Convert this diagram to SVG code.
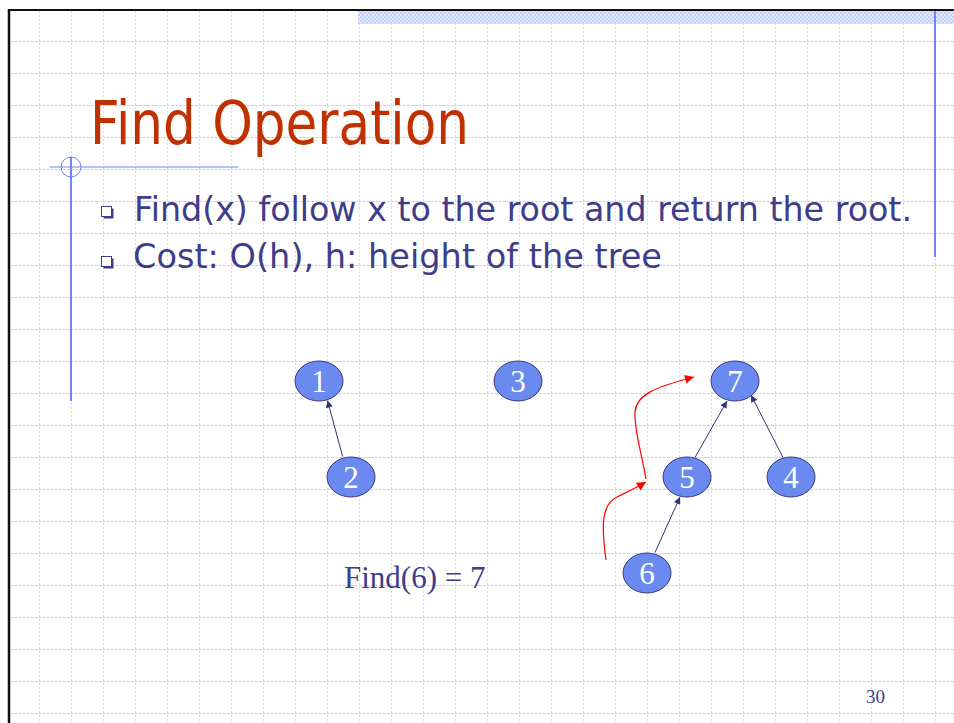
<svg xmlns="http://www.w3.org/2000/svg" width="954" height="723" viewBox="0 0 954 723">
<style>
.node ellipse{fill:#6b8af0;stroke:#3a3a80;stroke-width:1}
.node text{font-family:"Liberation Serif","Times New Roman",serif;font-size:31px;fill:#ffffff;text-anchor:middle}
.edge{stroke:#33337a;stroke-width:1;fill:none}
.red{stroke:#ff0000;stroke-width:1.2;fill:none}
.body{font-family:"DejaVu Sans",Tahoma,Verdana,sans-serif;font-size:33px;fill:#3d3d8a}
.deco{stroke:#6f86f0;fill:none}
.gh{stroke:#c4d0fa;stroke-width:1;stroke-dasharray:3 1;fill:none}
.gv{stroke:#d2dbfb;stroke-width:1;stroke-dasharray:2 2;fill:none}
</style>
<defs>
<pattern id="check" patternUnits="userSpaceOnUse" x="0" y="0" width="4" height="4">
<rect width="4" height="4" fill="#e2e8fc"/>
<rect width="2" height="2" fill="#c4d0f8"/>
<rect x="2" y="2" width="2" height="2" fill="#c4d0f8"/>
</pattern>
<marker id="ah" viewBox="0 0 10 10" refX="10" refY="5" markerWidth="9" markerHeight="7" markerUnits="userSpaceOnUse" orient="auto">
<path d="M0,0 L10,5 L0,10 z" fill="#33337a"/>
</marker>
<marker id="rah" viewBox="0 0 10 10" refX="10" refY="5" markerWidth="12" markerHeight="9" markerUnits="userSpaceOnUse" orient="auto">
<path d="M0,0 L10,5 L0,10 z" fill="#ff0000"/>
</marker>
</defs>
<rect width="954" height="723" fill="#ffffff"/>
<g id="grid">
<path class="gv" d="M39.5 11V723M71.5 11V723M103.5 11V723M135.5 11V723M167.5 11V723M199.5 11V723M231.5 11V723M263.5 11V723M295.5 11V723M327.5 11V723M359.5 11V723M391.5 11V723M423.5 11V723M455.5 11V723M487.5 11V723M519.5 11V723M551.5 11V723M583.5 11V723M615.5 11V723M647.5 11V723M679.5 11V723M711.5 11V723M743.5 11V723M775.5 11V723M807.5 11V723M839.5 11V723M871.5 11V723M903.5 11V723M935.5 11V723"/>
<path class="gh" d="M11 41.5H954M11 73.5H954M11 105.5H954M11 137.5H954M11 169.5H954M11 201.5H954M11 233.5H954M11 265.5H954M11 297.5H954M11 329.5H954M11 361.5H954M11 393.5H954M11 425.5H954M11 457.5H954M11 489.5H954M11 521.5H954M11 553.5H954M11 585.5H954M11 617.5H954M11 649.5H954M11 681.5H954M11 713.5H954"/>
</g>
<rect x="358" y="11" width="596" height="13" fill="url(#check)"/>
<line x1="8" y1="10" x2="954" y2="10" stroke="#111111" stroke-width="2"/>
<line x1="9" y1="9" x2="9" y2="723" stroke="#111111" stroke-width="2.5"/>
<line class="deco" x1="935" y1="11" x2="935" y2="257" stroke-width="2"/>
<line class="deco" x1="71" y1="157" x2="71" y2="401" stroke-width="2"/>
<line class="deco" x1="50" y1="167" x2="238" y2="167" stroke-width="1"/>
<circle class="deco" cx="71" cy="167" r="10" stroke-width="1"/>
<text x="90" y="144" font-family="DejaVu Sans,Tahoma,Verdana,sans-serif" font-size="60" fill="#c03000" textLength="379" lengthAdjust="spacingAndGlyphs">Find Operation</text>
<g id="bullets">
<rect x="103.5" y="208.5" width="10" height="10" fill="#3d3d8a"/>
<rect x="101.5" y="206.5" width="10" height="10" fill="#ffffff" stroke="#3d3d8a" stroke-width="1"/>
<rect x="103.5" y="258.5" width="10" height="10" fill="#3d3d8a"/>
<rect x="101.5" y="256.5" width="10" height="10" fill="#ffffff" stroke="#3d3d8a" stroke-width="1"/>
</g>
<text class="body" x="134" y="221" textLength="778" lengthAdjust="spacingAndGlyphs">Find(x) follow x to the root and return the root.</text>
<text class="body" x="133" y="268" textLength="529" lengthAdjust="spacingAndGlyphs">Cost: O(h), h: height of the tree</text>
<g id="connectors">
<line class="edge" x1="342.7" y1="456.7" x2="327.5" y2="400.5" marker-end="url(#ah)"/>
<line class="edge" x1="695" y1="457.5" x2="727" y2="401" marker-end="url(#ah)"/>
<line class="edge" x1="783" y1="457.5" x2="751" y2="395" marker-end="url(#ah)"/>
<line class="edge" x1="655" y1="552.5" x2="680" y2="497" marker-end="url(#ah)"/>
<path class="red" d="M606 560 C602 530 600 505 617 497 C627 492 636 488 646 482" marker-end="url(#rah)"/>
<path class="red" d="M646 479 C641 450 634 430 635 412 C636 395 655 387 694 377" marker-end="url(#rah)"/>
</g>
<g id="node1" class="node"><ellipse cx="319" cy="381" rx="24" ry="20"/><text x="319" y="392">1</text></g>
<g id="node3" class="node"><ellipse cx="518" cy="381" rx="24" ry="20"/><text x="518" y="392">3</text></g>
<g id="node7" class="node"><ellipse cx="735" cy="381" rx="24" ry="20"/><text x="735" y="392">7</text></g>
<g id="node2" class="node"><ellipse cx="351" cy="477" rx="24" ry="20"/><text x="351" y="488">2</text></g>
<g id="node5" class="node"><ellipse cx="687" cy="477" rx="24" ry="20"/><text x="687" y="488">5</text></g>
<g id="node4" class="node"><ellipse cx="791" cy="477" rx="24" ry="20"/><text x="791" y="488">4</text></g>
<g id="node6" class="node"><ellipse cx="647" cy="573" rx="24" ry="20"/><text x="647" y="584">6</text></g>
<text x="344" y="588" font-family="Liberation Serif,Times New Roman,serif" font-size="31" fill="#3d3d8a">Find(6) = 7</text>
<text x="866" y="703" font-family="Liberation Serif,Times New Roman,serif" font-size="19" fill="#3d3d8a">30</text>
</svg>
